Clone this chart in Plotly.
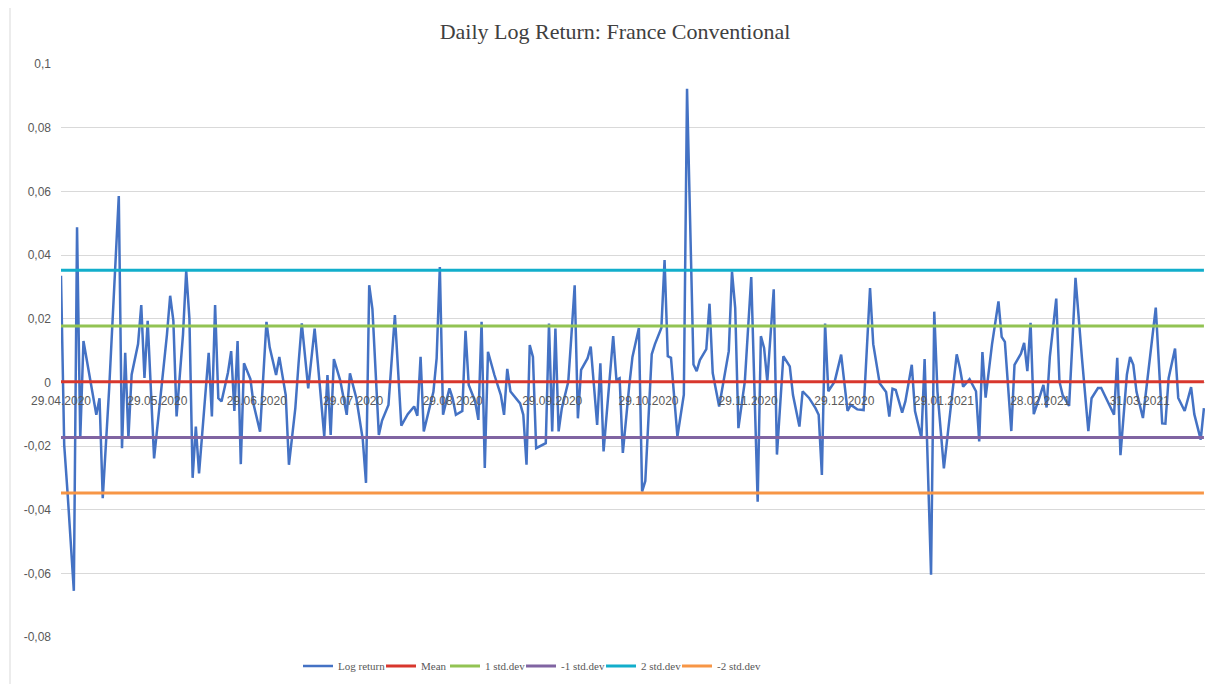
import pandas as pd
import plotly.graph_objects as go

# ---------------- data ----------------
start_date = "2020-04-29"

day_offset = [
    0, 1, 2, 4, 5, 6, 7, 9, 11, 12, 13, 15, 16, 17, 18, 19, 20, 21, 22, 24,
    25, 26, 27, 29, 31, 33, 34, 35, 36, 38, 39, 40, 41, 42, 43, 45, 46, 47, 48, 49,
    50, 52, 53, 54, 55, 56, 57, 59, 60, 62, 64, 65, 67, 68, 70, 71, 73, 74, 75, 77,
    79, 80, 81, 82, 83, 84, 85, 87, 89, 90, 92, 94, 95, 96, 97, 99, 100, 102, 103, 104,
    106, 108, 110, 111, 112, 113, 116, 117, 118, 119, 120, 121, 122, 123, 125, 126, 127, 129, 130, 131,
    132, 133, 135, 137, 138, 139, 140, 143, 144, 145, 146, 147, 148, 151, 152, 153, 154, 155, 156, 158,
    159, 160, 161, 162, 164, 165, 166, 167, 168, 169, 172, 173, 174, 175, 177, 178, 180, 181, 182, 184,
    185, 187, 188, 189, 190, 192, 194, 195, 197, 198, 199, 201, 202, 203, 205, 206, 208, 209, 210, 211,
    213, 215, 217, 218, 219, 220, 221, 222, 223, 225, 227, 228, 230, 231, 233, 235, 236, 237, 238, 239,
    241, 243, 245, 246, 248, 250, 252, 253, 255, 256, 257, 258, 259, 260, 262, 263, 265, 266, 268, 269,
    271, 272, 273, 275, 277, 279, 280, 281, 283, 285, 286, 287, 288, 290, 292, 293, 294, 296, 297, 299,
    300, 301, 302, 303, 305, 306, 307, 308, 310, 311, 312, 314, 315, 316, 318, 319, 320, 321, 323, 324,
    326, 328, 329, 330, 332, 333, 334, 335, 337, 339, 341, 343, 344, 345, 346, 347, 348, 350, 352, 353,
    355, 356,
]

log_return = [
    0.0335, -0.0197, -0.034, -0.0655, 0.0487, -0.0176, 0.013, 0.002, -0.0102, -0.005,
    -0.0364, -0.002, 0.017, 0.040, 0.0585, -0.0207, 0.0093, -0.0175, 0.0024, 0.012,
    0.0243, 0.0014, 0.0193, -0.0239, -0.005, 0.015, 0.0272, 0.0193, -0.0107, 0.015,
    0.035, 0.020, -0.030, -0.0139, -0.0286, -0.003, 0.0093, -0.0107, 0.0243, -0.005,
    -0.006, 0.003, 0.0098, -0.009, 0.013, -0.0257, 0.006, 0.001, -0.007, -0.0155,
    0.019, 0.011, 0.0023, 0.008, -0.004, -0.0259, -0.008, 0.006, 0.0185, -0.0019,
    0.0169, 0.006, -0.006, -0.017, 0.0023, -0.0165, 0.0073, 0.0005, -0.0102, 0.0028,
    -0.005, -0.018, -0.0316, 0.0305, 0.023, -0.0165, -0.012, -0.0071, 0.007, 0.0211,
    -0.0136, -0.010, -0.0076, -0.0105, 0.008, -0.0154, -0.003, 0.0075, 0.0362, -0.0102,
    -0.006, -0.0019, -0.005, -0.0102, -0.009, 0.0162, -0.0008, -0.006, -0.0118, 0.019,
    -0.0269, 0.0096, 0.0023, -0.004, -0.0102, 0.0042, -0.0029, -0.0066, -0.0102, -0.0259,
    0.0117, 0.008, -0.0207, -0.0191, 0.0185, -0.0154, 0.0169, -0.0154, -0.0081, 0.0002,
    0.015, 0.0305, -0.0113, 0.0039, 0.0075, 0.0112, -0.001, -0.0134, 0.006, -0.0217,
    0.0145, 0.0008, 0.0013, -0.0222, -0.001, 0.008, 0.0171, -0.0343, -0.031, 0.0088,
    0.012, 0.0171, 0.0384, 0.0082, 0.0077, -0.017, -0.0039, 0.0922, 0.0056, 0.0035,
    0.007, 0.0104, 0.0247, 0.0029, -0.0076, -0.0018, 0.0098, 0.0348, 0.0234, -0.0144,
    0.0003, 0.0331, -0.0375, 0.0145, 0.0108, 0.0003, 0.015, 0.0292, -0.0227, 0.0082,
    0.005, -0.004, -0.0139, -0.0028, -0.0049, -0.0081, -0.0102, -0.0291, 0.0185, -0.0028,
    0.0003, 0.0087, -0.009, -0.0071, -0.0085, -0.0087, 0.0296, 0.012, -0.0003, -0.0015,
    -0.003, -0.0108, -0.002, -0.0024, -0.0095, -0.006, 0.0055, -0.009, -0.0175, 0.0073,
    -0.0604, 0.0222, -0.0029, -0.027, -0.01, 0.0088, 0.0044, -0.0014, 0.001, -0.0028,
    -0.0186, 0.0095, -0.0048, 0.012, 0.0254, 0.0143, 0.0127, -0.0153, 0.0055, 0.009,
    0.0124, 0.0035, 0.0187, -0.01, -0.004, -0.0008, -0.0079, 0.008, 0.0263, 0.0002,
    -0.004, -0.0074, 0.012, 0.0328, 0.0077, -0.004, -0.0153, -0.005, -0.0018, -0.0018,
    -0.006, -0.0102, 0.0077, -0.0229, 0.0024, 0.008, 0.0055, -0.003, -0.0112, 0.006,
    0.0235, -0.0129, -0.013, 0.0013, 0.006, 0.0106, -0.0049, -0.009, -0.0015, -0.01,
    -0.018, -0.0081,
]

mean_level = 0.0002
plus1_level = 0.0177
minus1_level = -0.0173
plus2_level = 0.0352
minus2_level = -0.0348

series_names = ["Log return", "Mean", "1 std.dev", "-1 std.dev", "2 std.dev", "-2 std.dev"]

tick_dates = ["2020-04-29", "2020-05-29", "2020-06-29", "2020-07-29", "2020-08-29",
              "2020-09-29", "2020-10-29", "2020-11-29", "2020-12-29", "2021-01-29",
              "2021-02-28", "2021-03-31"]
tick_labels = ["29.04.2020", "29.05.2020", "29.06.2020", "29.07.2020", "29.08.2020",
               "29.09.2020", "29.10.2020", "29.11.2020", "29.12.2020", "29.01.2021",
               "28.02.2021", "31.03.2021"]

ytick_vals = [-0.08, -0.06, -0.04, -0.02, 0, 0.02, 0.04, 0.06, 0.08, 0.1]
ytick_labels = ["-0,08", "-0,06", "-0,04", "-0,02", "0", "0,02", "0,04", "0,06", "0,08", "0,1"]

# ---------------- layout constants (page is offset by the 8px body margin) ----------------
W, H = 1212, 676
ML, MR, MT, MB = 53, 15, 56, 47
PW = W - ML - MR
PH = H - MT - MB

# ---------------- figure ----------------
dates = pd.Timestamp(start_date) + pd.to_timedelta(day_offset, unit="D")
x_ends = [dates[0], dates[-1]]

legend_ids = ["legend", "legend2", "legend3", "legend4", "legend5", "legend6"]
legend_left_px = [290, 373, 437, 513, 593, 669]  # figure px where each legend entry begins

fig = go.Figure()
fig.add_trace(go.Scatter(x=dates, y=log_return, mode="lines", name=series_names[0],
                         legend=legend_ids[0], line=dict(color="#4472C4", width=2.5)))

levels = [mean_level, plus1_level, minus1_level, plus2_level, minus2_level]
colors = ["#D8372D", "#92C353", "#8064A2", "#12AECB", "#F79646"]
for name, lvl, col, lid in zip(series_names[1:], levels, colors, legend_ids[1:]):
    fig.add_trace(go.Scatter(x=x_ends, y=[lvl, lvl], mode="lines", name=name, legend=lid,
                             line=dict(color=col, width=3)))

leg_font = dict(family="Liberation Serif, Times New Roman, serif", size=11, color="#595959")
legend_layout = {}
for lid, px in zip(legend_ids, legend_left_px):
    legend_layout[lid] = dict(orientation="h", x=(px - ML) / PW, xanchor="left",
                              y=-(658 - (H - MB)) / PH, yanchor="middle",
                              itemwidth=30, font=leg_font, bgcolor="rgba(0,0,0,0)",
                              borderwidth=0)

y_min, y_max = -0.08, 0.1
fig.update_layout(
    width=W, height=H,
    margin=dict(l=ML, r=MR, t=MT, b=MB, autoexpand=False),
    paper_bgcolor="white", plot_bgcolor="white",
    title=dict(text="Daily Log Return: France Conventional", x=(607) / W, xanchor="center",
               y=1 - 23 / H, yanchor="middle",
               font=dict(family="Liberation Serif, Times New Roman, serif", size=22, color="#404040")),
    showlegend=True,
    xaxis=dict(type="date", range=[dates[0], pd.Timestamp(dates[-1]) + pd.Timedelta(hours=8)],
               showgrid=False, zeroline=False, showline=False, ticks="", automargin=False,
               tickvals=tick_dates, ticktext=tick_labels,
               anchor="free", position=(0 - y_min) / (y_max - y_min),
               ticklabelstandoff=10,
               tickfont=dict(family="Liberation Sans, Arial, sans-serif", size=12, color="#595959")),
    yaxis=dict(range=[y_min, y_max], tickvals=ytick_vals, ticktext=ytick_labels, automargin=False,
               showgrid=True, gridcolor="#D9D9D9", gridwidth=1, zeroline=False,
               showline=False, ticks="", ticklabelstandoff=9,
               tickfont=dict(family="Liberation Sans, Arial, sans-serif", size=12, color="#595959")),
    **legend_layout,
)

# chart-area border (left edge line as in the reference)
fig.add_shape(type="line", xref="paper", yref="paper",
              x0=(2 - ML) / PW, x1=(2 - ML) / PW, y0=-MB / PH, y1=(H - MB) / PH,
              line=dict(color="#D9D9D9", width=1))

fig.write_html("out.html")
